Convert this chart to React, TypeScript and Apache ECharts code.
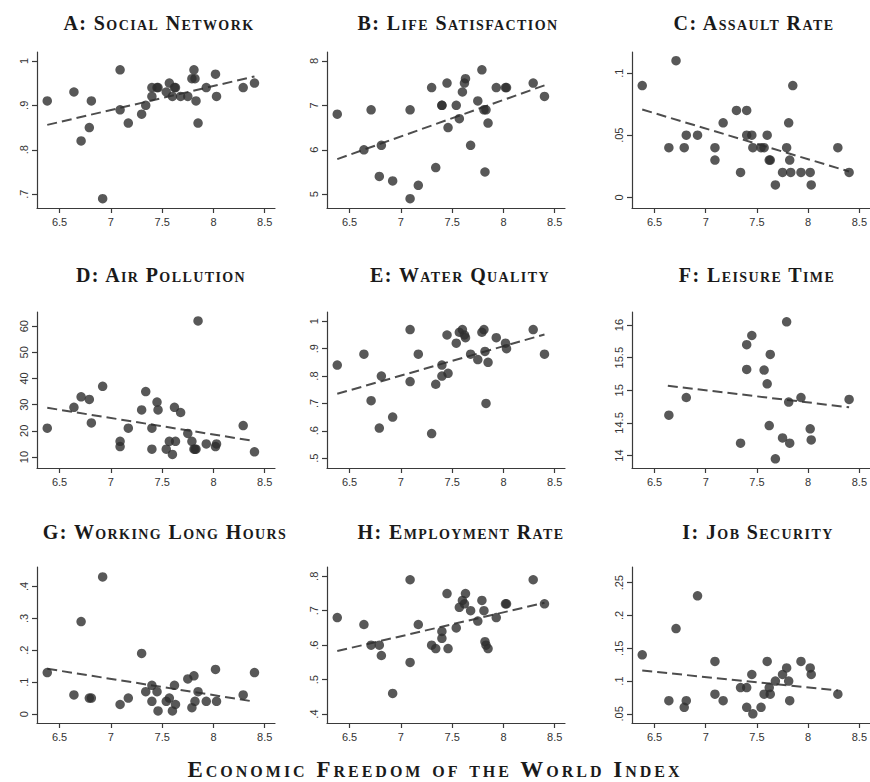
import React, { useEffect, useRef } from "react";
import * as echarts from "echarts";

// Economic Freedom of the World Index (shared x for every panel)
const X = [6.38, 6.64, 6.71, 6.79, 6.81, 6.92, 7.09, 7.09, 7.17, 7.30, 7.34, 7.40, 7.40, 7.45, 7.46, 7.54,
  7.57, 7.60, 7.62, 7.63, 7.68, 7.75, 7.79, 7.81, 7.82, 7.83, 7.85, 7.93, 8.02, 8.03, 8.29, 8.40];

const SOCIAL_NETWORK = [0.91, 0.93, 0.82, 0.85, 0.91, 0.69, 0.98, 0.89, 0.86, 0.88, 0.90, 0.94, 0.92, 0.94, 0.94, 0.93,
  0.95, 0.92, 0.94, 0.94, 0.92, 0.92, 0.96, 0.98, 0.96, 0.91, 0.86, 0.94, 0.97, 0.92, 0.94, 0.95];
const LIFE_SATISFACTION = [6.8, 6.0, 6.9, 5.4, 6.1, 5.3, 6.9, 4.9, 5.2, 7.4, 5.6, 7.0, 7.0, 7.5, 6.5, 7.0,
  6.7, 7.3, 7.5, 7.6, 6.1, 7.1, 7.8, 6.9, 5.5, 6.9, 6.6, 7.4, 7.4, 7.4, 7.5, 7.2];
const ASSAULT_RATE = [0.09, 0.04, 0.11, 0.04, 0.05, 0.05, 0.04, 0.03, 0.06, 0.07, 0.02, 0.07, 0.05, 0.05, 0.04, 0.04,
  0.04, 0.05, 0.03, 0.03, 0.01, 0.02, 0.04, 0.06, 0.03, 0.02, 0.09, 0.02, 0.02, 0.01, 0.04, 0.02];
const AIR_POLLUTION = [21, 29, 33, 32, 23, 37, 16, 14, 21, 28, 35, 21, 13, 31, 28, 13,
  16, 11, 29, 16, 27, 19, 16, 13, 13, 13, 62, 15, 14, 15, 22, 12];
const WATER_QUALITY = [0.84, 0.88, 0.71, 0.61, 0.80, 0.65, 0.97, 0.78, 0.88, 0.59, 0.77, 0.84, 0.80, 0.95, 0.81, 0.92,
  0.96, 0.97, 0.95, 0.94, 0.88, 0.86, 0.96, 0.97, 0.89, 0.70, 0.85, 0.94, 0.92, 0.90, 0.97, 0.88];
const LEISURE_TIME = [null, 14.62, null, null, 14.89, null, null, null, null, null, 14.19, 15.70, 15.32, 15.84, null, null,
  15.31, 15.10, 14.46, 15.55, 13.95, 14.27, 16.05, 14.82, 14.19, null, null, 14.89, 14.41, 14.24, null, 14.86];
const LONG_HOURS = [0.13, 0.06, 0.29, 0.05, 0.05, 0.43, 0.03, null, 0.05, 0.19, 0.07, 0.09, 0.04, 0.07, 0.01, 0.04,
  0.05, 0.01, 0.09, 0.03, null, 0.11, 0.02, 0.12, 0.04, null, 0.07, 0.04, 0.14, 0.04, 0.06, 0.13];
const EMPLOYMENT_RATE = [0.68, 0.66, 0.60, 0.60, 0.57, 0.46, 0.79, 0.55, 0.66, 0.60, 0.59, 0.64, 0.62, 0.75, 0.59, 0.65,
  0.71, 0.73, 0.72, 0.75, 0.70, 0.67, 0.73, 0.70, 0.61, 0.60, 0.59, 0.68, 0.72, 0.72, 0.79, 0.72];
const JOB_SECURITY = [0.14, 0.07, 0.18, 0.06, 0.07, 0.23, 0.13, 0.08, 0.07, null, 0.09, 0.09, 0.06, 0.11, 0.05, 0.06,
  0.08, 0.13, 0.09, 0.08, 0.10, 0.11, 0.12, 0.10, 0.07, null, null, 0.13, 0.12, 0.11, 0.08, null];

// Fitted (dashed) lines: start/end points
const FIT_X0 = [6.38, 6.38, 6.38, 6.38, 6.38, 6.63, 6.38, 6.38, 6.38];
const FIT_X1 = [8.40, 8.40, 8.40, 8.40, 8.40, 8.40, 8.40, 8.40, 8.29];
const FIT_Y0 = [0.856, 5.79, 0.0707, 28.8, 0.735, 15.07, 0.142, 0.583, 0.116];
const FIT_Y1 = [0.965, 7.45, 0.0208, 16.1, 0.952, 14.74, 0.039, 0.723, 0.0856];

// Tick values
const X_TICKS = [6.5, 7, 7.5, 8, 8.5];
const A_TICKS = [0.7, 0.8, 0.9, 1];
const B_TICKS = [5, 6, 7, 8];
const C_TICKS = [0, 0.05, 0.1];
const D_TICKS = [10, 20, 30, 40, 50, 60];
const E_TICKS = [0.5, 0.6, 0.7, 0.8, 0.9, 1];
const F_TICKS = [14, 14.5, 15, 15.5, 16];
const G_TICKS = [0, 0.1, 0.2, 0.3, 0.4];
const H_TICKS = [0.4, 0.5, 0.6, 0.7, 0.8];
const I_TICKS = [0.05, 0.1, 0.15, 0.2, 0.25];

const TITLES = [
  "A: Social Network", "B: Life Satisfaction", "C: Assault Rate",
  "D: Air Pollution", "E: Water Quality", "F: Leisure Time",
  "G: Working Long Hours", "H: Employment Rate", "I: Job Security",
];
const X_TITLE = "Economic Freedom of the World Index";

const PANELS = [
  { y: SOCIAL_NETWORK, ticks: A_TICKS, min: 0.669, max: 1.02 },
  { y: LIFE_SATISFACTION, ticks: B_TICKS, min: 4.69, max: 8.2 },
  { y: ASSAULT_RATE, ticks: C_TICKS, min: -0.0086, max: 0.117 },
  { y: AIR_POLLUTION, ticks: D_TICKS, min: 5.8, max: 65.4 },
  { y: WATER_QUALITY, ticks: E_TICKS, min: 0.464, max: 1.034 },
  { y: LEISURE_TIME, ticks: F_TICKS, min: 13.81, max: 16.2 },
  { y: LONG_HOURS, ticks: G_TICKS, min: -0.028, max: 0.461 },
  { y: EMPLOYMENT_RATE, ticks: H_TICKS, min: 0.374, max: 0.827 },
  { y: JOB_SECURITY, ticks: I_TICKS, min: 0.036, max: 0.274 },
];

const COL_LEFT = [37, 327, 632];
const ROW_TOP = [52, 312, 567];
const GRID_W = 238;
const GRID_H = 156;
const TITLE_X = [159, 458, 754, 161, 460, 757, 165, 461, 758];
const TITLE_Y = [23, 23, 23, 275, 275, 275, 532, 532, 532];

const fmt = (v: number) => {
  const s = String(Math.round(v * 10000) / 10000);
  return s.replace(/^0\./, ".").replace(/^-0\./, "-.");
};

const AXIS_COLOR = "#3a3a3a";
const LABEL_FONT = '"Liberation Sans Narrow", "Liberation Sans", sans-serif';
const TITLE_FONT = "Liberation Serif;font-variant:small-caps;letter-spacing:1.4px";
const XTITLE_FONT = "Liberation Serif;font-variant:small-caps;letter-spacing:3px";

export default function App() {
  const ref = useRef<HTMLDivElement>(null);

  useEffect(() => {
    if (!ref.current) return;
    const chart = echarts.init(ref.current, undefined, { renderer: "svg" });

    const grid: any[] = [];
    const xAxis: any[] = [];
    const yAxis: any[] = [];
    const series: any[] = [];
    const graphic: any[] = [];

    PANELS.forEach((p, i) => {
      const col = i % 3;
      const row = Math.floor(i / 3);
      grid.push({ left: COL_LEFT[col], top: ROW_TOP[row], width: GRID_W, height: GRID_H, containLabel: false });
      xAxis.push({
        type: "value",
        gridIndex: i,
        min: 6.28,
        max: 8.6,
        axisLine: { show: true, onZero: false, lineStyle: { color: AXIS_COLOR, width: 1.2 } },
        axisTick: { show: true, length: 5, customValues: X_TICKS, lineStyle: { color: AXIS_COLOR, width: 1.2 } },
        axisLabel: {
          customValues: X_TICKS,
          formatter: (v: number) => fmt(v),
          color: "#333",
          fontSize: 11,
          fontFamily: LABEL_FONT,
          margin: 8,
        },
        splitLine: { show: false },
      });
      yAxis.push({
        type: "value",
        gridIndex: i,
        min: p.min,
        max: p.max,
        axisLine: { show: true, onZero: false, lineStyle: { color: AXIS_COLOR, width: 1.2 } },
        axisTick: { show: true, length: 5, customValues: p.ticks, lineStyle: { color: AXIS_COLOR, width: 1.2 } },
        axisLabel: {
          customValues: p.ticks,
          formatter: (v: number) => fmt(v),
          rotate: 90,
          color: "#333",
          fontSize: 11,
          fontFamily: LABEL_FONT,
          margin: 8,
        },
        splitLine: { show: false },
      });
      series.push({
        type: "line",
        xAxisIndex: i,
        yAxisIndex: i,
        data: [[FIT_X0[i], FIT_Y0[i]], [FIT_X1[i], FIT_Y1[i]]],
        symbol: "none",
        lineStyle: { color: "#4d4d4d", width: 2, type: [10, 5] },
        z: 2,
        silent: true,
      });
      series.push({
        type: "scatter",
        xAxisIndex: i,
        yAxisIndex: i,
        data: X.map((x, k) => [x, p.y[k]]).filter((d) => d[1] !== null && d[1] !== undefined),
        symbolSize: 9.5,
        itemStyle: { color: "#2e2e2e" },
        z: 3,
      });
      graphic.push({
        type: "text",
        x: TITLE_X[i],
        y: TITLE_Y[i],
        style: {
          text: TITLES[i],
          fontSize: 20,
          fontWeight: "bold",
          fontFamily: TITLE_FONT,
          fill: "#1a1a1a",
          align: "center",
          verticalAlign: "middle",
        },
      });
    });

    graphic.push({
      type: "text",
      x: 435,
      y: 769,
      style: {
        text: X_TITLE,
        fontSize: 23,
        fontWeight: "bold",
        fontFamily: XTITLE_FONT,
        fill: "#1a1a1a",
        align: "center",
        verticalAlign: "middle",
      },
    });

    chart.setOption({
      animation: false,
      backgroundColor: "#ffffff",
      grid,
      xAxis,
      yAxis,
      series,
      graphic,
    });

    return () => chart.dispose();
  }, []);

  return (
    <div
      ref={ref}
      style={{ position: "absolute", left: 0, top: 0, width: 870, height: 782 }}
    />
  );
}
